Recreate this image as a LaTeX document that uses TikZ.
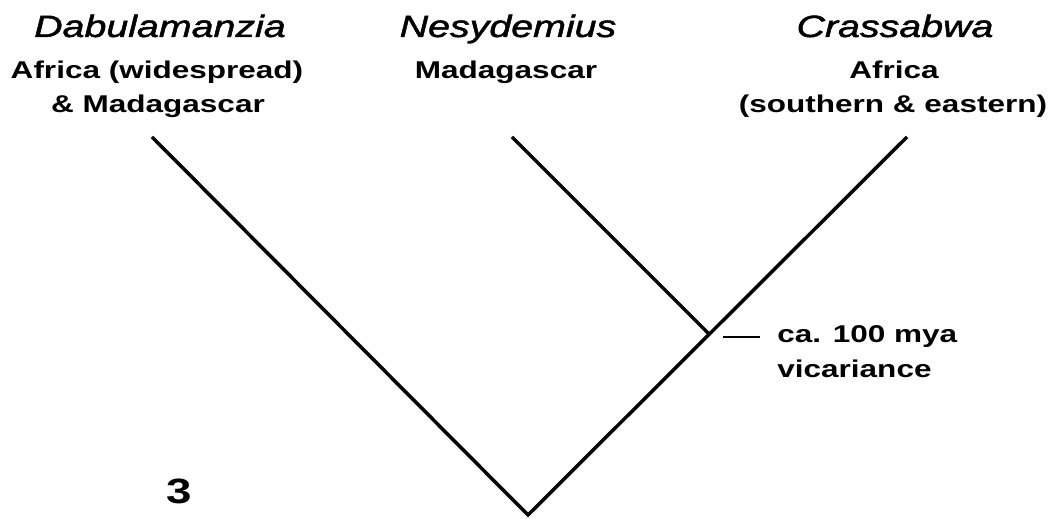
\documentclass[tikz,border=0pt]{standalone}
\usepackage{fontspec}
\setmainfont{Liberation Sans}[FakeStretch=1.3]
\newfontfamily\titlefont{Liberation Sans}[FakeStretch=1.28,FakeBold=1.6]
\begin{document}
\begin{tikzpicture}[x=0.02cm,y=-0.02cm,
  branch/.style={line width=2pt,line cap=butt,line join=miter},
  genus/.style={anchor=base,inner sep=0pt,font=\titlefont\fontsize{17.5}{20}\selectfont\itshape},
  region/.style={anchor=base,inner sep=0pt,font=\fontsize{13.8}{16}\selectfont\bfseries},
  note/.style={anchor=base west,inner sep=0pt,font=\fontsize{13.8}{16}\selectfont\bfseries}]
\useasboundingbox (0,0) rectangle (1055,519);
% tree points
\coordinate (root) at (528,515);
\coordinate (leafD) at (152,137);
\coordinate (leafN) at (512,137);
\coordinate (leafC) at (907,137);
\coordinate (junc) at (709,334);
\draw[branch] (leafD) -- (root) -- (leafC);
\draw[branch] (leafN) -- (junc);
% labels
\node[genus] (tD) at (160,37) {Dabulamanzia};
\node[region] (rD1) at (157,79) {Africa (widespread)};
\node[region] (rD2) at (158,113) {\&\ Madagascar};
\node[genus] (tN) at (508,37) {Nesydemius};
\node[region] (rN) at (506,79) {Madagascar};
\node[genus] (tC) at (895,37) {Crassabwa};
\node[region] (rC1) at (894,79) {Africa};
\node[region] (rC2) at (893,113) {(southern \&\ eastern)};
% vicariance note
\coordinate (tickA) at (723,337);
\coordinate (tickB) at (760,337);
\draw[line width=1.3pt] (tickA) -- (tickB);
\node[note] (v1) at (777,343) {ca. 100 mya};
\node[note] (v2) at (777,378) {vicariance};
\node[anchor=base west,inner sep=0pt,font=\fontsize{20}{22}\selectfont\bfseries] (fig) at (166,504) {3};
\end{tikzpicture}
\end{document}
